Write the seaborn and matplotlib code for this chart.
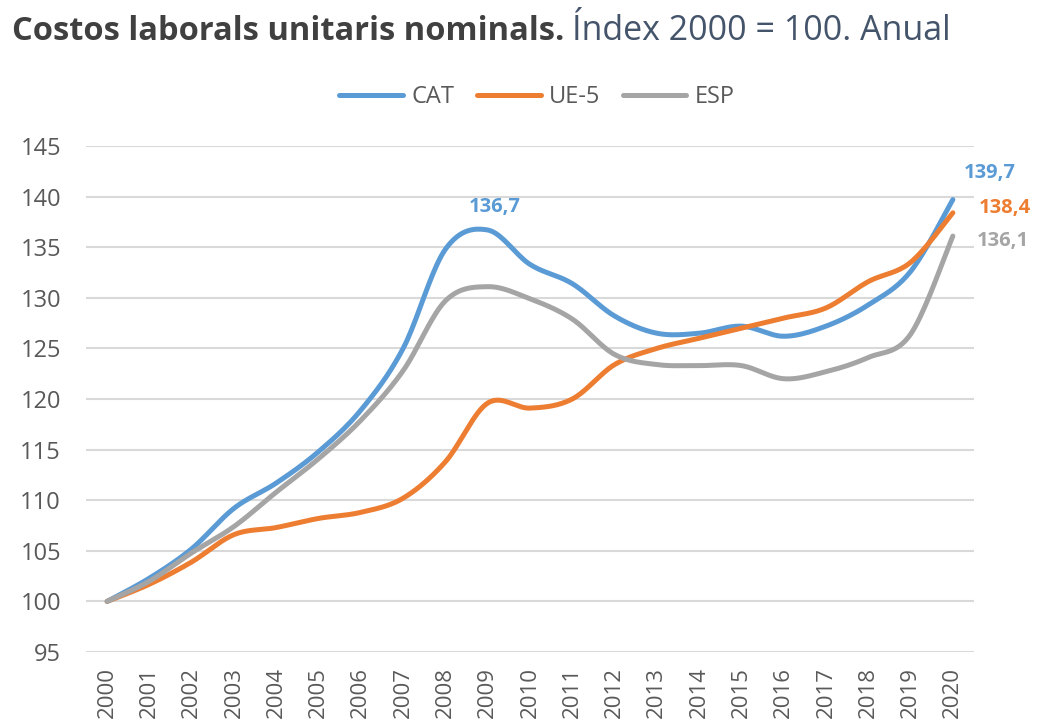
import numpy as np
import pandas as pd
import matplotlib
matplotlib.use("Agg")
import matplotlib.pyplot as plt
import seaborn as sns

# Data
years = list(range(2000, 2021))
cat = [100, 102.3, 105.2, 109.2, 111.7, 114.8, 118.9, 125.0, 134.8, 136.7, 133.3,
       131.4, 128.2, 126.5, 126.5, 127.2, 126.2, 127.2, 129.3, 132.6, 139.7]
ue5 = [100, 101.7, 103.9, 106.6, 107.3, 108.2, 108.8, 110.2, 113.8, 119.6, 119.1,
       120.0, 123.4, 125.0, 126.0, 127.0, 128.0, 129.0, 131.6, 133.5, 138.4]
esp = [100, 102.0, 104.8, 107.4, 110.8, 114.1, 117.9, 122.8, 129.7, 131.1, 129.9,
       127.9, 124.4, 123.4, 123.3, 123.3, 122.0, 122.7, 124.1, 126.4, 136.1]
series_names = ["CAT", "UE-5", "ESP"]
colors = {"CAT": "#5B9BD5", "UE-5": "#ED7D31", "ESP": "#A5A5A5"}


def smooth(x, y, n=20):
    """Excel-style smoothed line (Bezier through points, Catmull-Rom control points)."""
    x = np.asarray(x, float)
    y = np.asarray(y, float)
    px = np.concatenate([[x[0]], x, [x[-1]]])
    py = np.concatenate([[y[0]], y, [y[-1]]])
    xs, ys = [], []
    t = np.linspace(0, 1, n, endpoint=False)
    for i in range(1, len(px) - 2):
        p0 = np.array([px[i], py[i]])
        p3 = np.array([px[i + 1], py[i + 1]])
        c1 = p0 + (p3 - np.array([px[i - 1], py[i - 1]])) / 6
        c2 = p3 - (np.array([px[i + 2], py[i + 2]]) - p0) / 6
        b = ((1 - t) ** 3)[:, None] * p0 + (3 * (1 - t) ** 2 * t)[:, None] * c1 \
            + (3 * (1 - t) * t ** 2)[:, None] * c2 + (t ** 3)[:, None] * p3
        xs.extend(b[:, 0])
        ys.extend(b[:, 1])
    xs.append(x[-1])
    ys.append(y[-1])
    return xs, ys


frames = []
for name, vals in zip(series_names, [cat, ue5, esp]):
    sx, sy = smooth(years, vals)
    frames.append(pd.DataFrame({"year": sx, "value": sy, "serie": name}))
df = pd.concat(frames, ignore_index=True)

sns.set_style("white")
plt.rcParams["font.family"] = ["Open Sans", "DejaVu Sans"]

fig = plt.figure(figsize=(10.38, 7.27), dpi=100)
ax = fig.add_axes([86 / 1038, 1 - 652 / 727, (974 - 86) / 1038, (652 - 146) / 727])

sns.lineplot(data=df, x="year", y="value", hue="serie", palette=colors,
             hue_order=series_names, linewidth=3.6, sort=False,
             estimator=None, ax=ax, legend=False, solid_capstyle="round")

ax.set_xlim(1999.5, 2020.5)
ax.set_ylim(95, 145)
ax.set_yticks(range(95, 146, 5))
ax.set_xticks(years)
ax.set_xticklabels([str(y) for y in years], rotation=90)
ax.tick_params(axis="both", colors="#595959", length=0)
ax.tick_params(axis="y", pad=18, labelsize=17)
ax.tick_params(axis="x", pad=11, labelsize=16)
ax.grid(axis="y", color="#D9D9D9", linewidth=1.5)
ax.set_axisbelow(True)
for s in ax.spines.values():
    s.set_visible(False)
ax.set_xlabel("")
ax.set_ylabel("")

# data labels
ax.annotate("136,7", xy=(2009, cat[9]), xytext=(7, 23), textcoords="offset pixels",
            ha="center", va="center", color=colors["CAT"], fontsize=14.5, fontweight="bold")
ax.annotate("139,7", xy=(2020, cat[-1]), xytext=(37, 27), textcoords="offset pixels",
            ha="center", va="center", color=colors["CAT"], fontsize=14.5, fontweight="bold")
ax.annotate("138,4", xy=(2020, ue5[-1]), xytext=(52, 5), textcoords="offset pixels",
            ha="center", va="center", color=colors["UE-5"], fontsize=14.5, fontweight="bold")
ax.annotate("136,1", xy=(2020, esp[-1]), xytext=(50, -5), textcoords="offset pixels",
            ha="center", va="center", color=colors["ESP"], fontsize=14.5, fontweight="bold")

# legend
handles = [plt.Line2D([], [], color=colors[n], linewidth=3.6) for n in series_names]
fig.legend(handles, series_names, loc="center", bbox_to_anchor=(537 / 1038, 1 - 97 / 727),
           ncol=3, frameon=False, fontsize=17, handlelength=2.7, handletextpad=0.35,
           columnspacing=0.95, labelcolor="#595959")

# title in two parts
t1 = fig.text(12 / 1038, 1 - 40 / 727, "Costos laborals unitaris nominals.", fontsize=23.5,
              fontweight="bold", color="#404040", va="baseline", ha="left")
fig.canvas.draw()
bb = t1.get_window_extent()
fig.text((bb.x1 + 8) / 1038, 1 - 40 / 727, "Índex 2000 = 100. Anual", fontsize=24.5,
         color="#44546A", va="baseline", ha="left")

fig.savefig("out.png", dpi=100)
